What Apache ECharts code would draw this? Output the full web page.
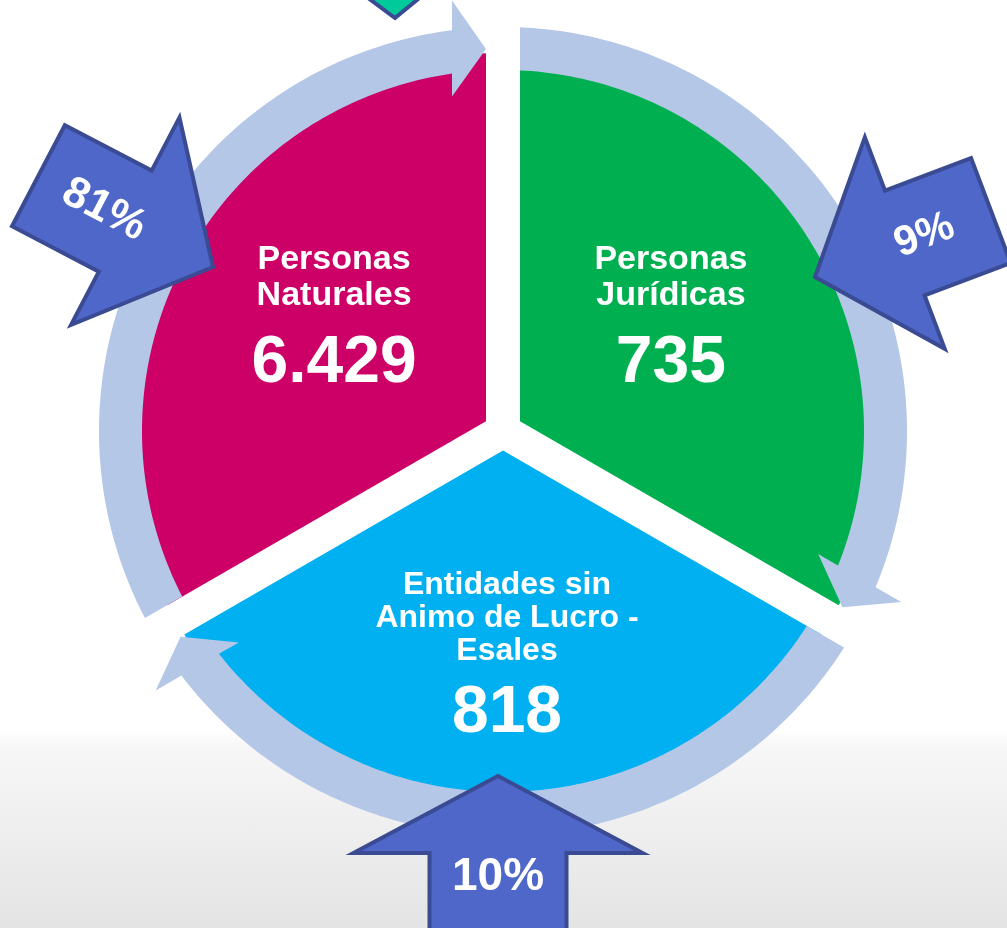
<!DOCTYPE html>
<html>
<head>
<meta charset="utf-8">
<script src="https://cdn.jsdelivr.net/npm/echarts@6/dist/echarts.min.js"></script>
<style>
html,body{margin:0;padding:0;background:#fff;}
#c{width:1007px;height:928px;background:linear-gradient(to bottom,#ffffff 0%,#ffffff 78.5%,#f7f7f7 80.5%,#e4e4e4 100%);}
</style>
</head>
<body>
<div id="c"></div>
<script>
// ---- data ----
const categories = ['Personas\nNaturales', 'Entidades sin\nAnimo de Lucro -\nEsales', 'Personas\nJurídicas'];
const values = [6429, 818, 735];
const shares = [81, 10, 9];
const colors = ['#CC0066', '#00B0F0', '#00B050'];

// ---- helpers ----
function fmt(v){ return String(v).replace(/\B(?=(\d{3})+(?!\d))/g, '.'); }
const FONT = '"Liberation Sans", Arial, sans-serif';

function richFor(nFS, nLH, vLH){
  return {
    n:{fontSize:nFS, lineHeight:nLH, fontWeight:'bold', color:'#fff', fontFamily:FONT},
    v:{fontSize:66, lineHeight:vLH, fontWeight:'bold', color:'#fff', fontFamily:FONT}
  };
}
const labelTweaks = [
  {padding:[0,0,0,20], rich:richFor(34,36,100)},
  {padding:[54,0,0,8], rich:richFor(32,33,93)},
  {padding:[0,22,0,0], rich:richFor(34,36,100)}
];

// ---- ring arrows geometry ----
const RC = [503, 431], RIN = 361, ROUT = 404, RMID = (RIN + ROUT) / 2;
const HG = 17, HEADL = 34, HEADW = 48;
const D2R = Math.PI / 180;
function polar(r, deg){ const t = deg * D2R; return [RC[0] + r * Math.cos(t), RC[1] - r * Math.sin(t)]; }
function frame(a, b, B){
  const t = B * D2R, t2 = (B + 90) * D2R;
  return [RC[0] + a * Math.cos(t) + b * Math.cos(t2), RC[1] - a * Math.sin(t) - b * Math.sin(t2)];
}
function ringArrow(Bs, Be){
  const pts = [], N = 120;
  const oS = Bs - Math.asin(HG / ROUT) / D2R, oE = Be + Math.asin((HG + HEADL) / ROUT) / D2R;
  for (let k = 0; k <= N; k++) pts.push(polar(ROUT, oS + (oE - oS) * k / N));
  pts.push(frame(RMID + HEADW, HG + HEADL, Be));
  pts.push(frame(Math.sqrt(RMID * RMID - HG * HG), HG, Be));
  pts.push(frame(RMID - HEADW, HG + HEADL, Be));
  const iS = Bs - Math.asin(HG / RIN) / D2R, iE = Be + Math.asin((HG + HEADL) / RIN) / D2R;
  for (let k = N; k >= 0; k--) pts.push(polar(RIN, iS + (iE - iS) * k / N));
  return pts;
}

// ---- block arrow callouts ----
function blockArrow(tip, deg, headLen, headHW, shaftHW, shaftLen){
  const t = deg * D2R, d = [Math.cos(t), Math.sin(t)], n = [-d[1], d[0]];
  const base = [tip[0] - headLen * d[0], tip[1] - headLen * d[1]];
  const back = [base[0] - shaftLen * d[0], base[1] - shaftLen * d[1]];
  const q = (p, s) => [p[0] + s * n[0], p[1] + s * n[1]];
  return [tip, q(base, headHW), q(base, shaftHW), q(back, shaftHW), q(back, -shaftHW), q(base, -shaftHW), q(base, -headHW)];
}
function along(tip, deg, dist){ const t = deg * D2R; return [tip[0] - dist * Math.cos(t), tip[1] - dist * Math.sin(t)]; }

const callouts = [
  {tip:[213,267], deg:27.6, headLen:99, headHW:117, shaftHW:57, shaftLen:98, textDist:123, fontSize:44, rot:-27.6},
  {tip:[498,776], deg:-90, headLen:77, headHW:144.5, shaftHW:68.5, shaftLen:170, textDist:101, fontSize:46, rot:0},
  {tip:[815,277], deg:159.3, headLen:96, headHW:113, shaftHW:56, shaftLen:92, textDist:117, fontSize:42, rot:20.7}
];

const graphics = [];
[[210, 90], [-30, -150], [90, -30]].forEach(([bs, be]) => {
  graphics.push({type:'polygon', z:10, shape:{points:ringArrow(bs, be)}, style:{fill:'#B4C7E7'}, silent:true});
});
// partial teal callout at the top edge
graphics.push({type:'polygon', z:20, shape:{points:[[352,-14],[395,18],[434,-14]]},
  style:{fill:'#00C99A', stroke:'#3A4B93', lineWidth:4, lineJoin:'miter'}, silent:true});
callouts.forEach((c, i) => {
  graphics.push({type:'polygon', z:20, shape:{points:blockArrow(c.tip, c.deg, c.headLen, c.headHW, c.shaftHW, c.shaftLen)},
    style:{fill:'#4F67C8', stroke:'#3A4B93', lineWidth:4, lineJoin:'miter'}, silent:true});
  const p = along(c.tip, c.deg, c.textDist);
  graphics.push({type:'text', z:21, x:p[0], y:p[1], rotation:c.rot * D2R, silent:true,
    style:{text:shares[i] + '%', fill:'#fff', font:'bold ' + c.fontSize + 'px ' + FONT,
      textAlign:'center', textVerticalAlign:'middle', align:'center', verticalAlign:'middle'}});
});

const chart = echarts.init(document.getElementById('c'), null, {renderer:'canvas'});
chart.setOption({
  animation:false,
  backgroundColor:'transparent',
  graphic: graphics,
  series:[{
    type:'pie',
    center:[503, 431],
    radius:[0, 368],
    startAngle:90,
    clockwise:false,
    minAngle:120,
    avoidLabelOverlap:false,
    selectedMode:'multiple',
    selectedOffset:19.6,
    emphasis:{scale:false},
    itemStyle:{borderWidth:0},
    labelLine:{show:false},
    label:{
      show:true, position:'inside', color:'#fff', fontFamily:FONT, fontWeight:'bold',
      formatter: p => p.name.split('\n').map(l => '{n|' + l + '}').join('\n') + '\n{v|' + fmt(p.value) + '}',
      rich:richFor(34, 36, 100)
    },
    data: categories.map((c, i) => ({
      name:c, value:values[i], selected:true,
      itemStyle:{color:colors[i]},
      label:labelTweaks[i]
    }))
  }]
});
</script>
</body>
</html>
